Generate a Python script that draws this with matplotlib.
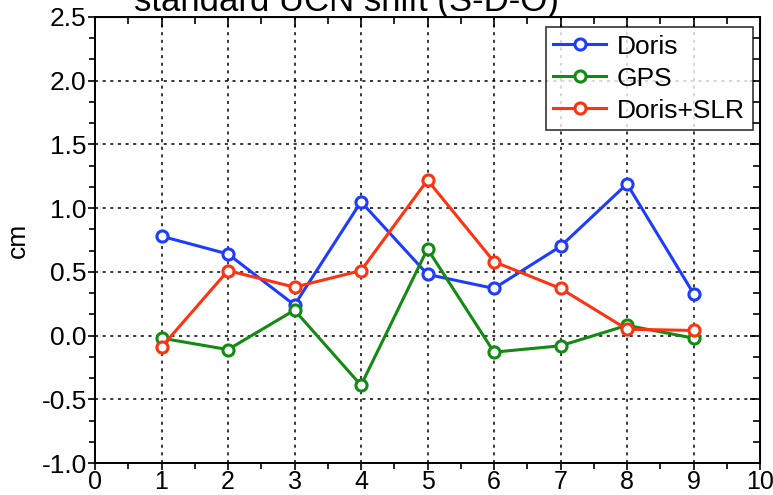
import matplotlib
matplotlib.use("Agg")
import matplotlib.pyplot as plt
from matplotlib.ticker import AutoMinorLocator, MultipleLocator

plt.rcParams["font.family"] = ["Liberation Sans", "DejaVu Sans"]

# values
epochs = [1, 2, 3, 4, 5, 6, 7, 8, 9]
doris = [0.78, 0.64, 0.24, 1.05, 0.48, 0.37, 0.70, 1.19, 0.33]
gps = [-0.02, -0.11, 0.20, -0.39, 0.68, -0.13, -0.08, 0.08, -0.02]
doris_slr = [-0.09, 0.51, 0.38, 0.51, 1.22, 0.58, 0.37, 0.05, 0.04]

series = [
    ("Doris", doris, "#1e3cff"),
    ("GPS", gps, "#138a13"),
    ("Doris+SLR", doris_slr, "#ff3311"),
]

fig = plt.figure(figsize=(7.73, 4.95), dpi=100)
ax = fig.add_axes([0.1229, 0.0646, 0.8603, 0.9011])

for name, vals, col in series:
    ax.plot(epochs, vals, color=col, lw=2.2, marker="o", ms=8,
            mfc="white", mec=col, mew=2.2, label=name)

ax.set_xlim(0, 10)
ax.set_ylim(-1.0, 2.5)
ax.xaxis.set_major_locator(MultipleLocator(1))
ax.yaxis.set_major_locator(MultipleLocator(0.5))
ax.xaxis.set_minor_locator(AutoMinorLocator(2))
ax.yaxis.set_minor_locator(AutoMinorLocator(3))
ax.yaxis.set_major_formatter(plt.FormatStrFormatter("%.1f"))
ax.grid(True, which="major", color="black", ls=(0, (2, 3)), lw=1.1)
ax.tick_params(which="both", direction="out", labelsize=19, width=1.2, pad=1)
ax.tick_params(axis="x", labelsize=18, pad=0)
ax.tick_params(which="major", length=5)
ax.tick_params(which="minor", length=4)
for s in ax.spines.values():
    s.set_linewidth(1.4)

# inward ticks on the top and right frame
top = ax.secondary_xaxis("top")
top.xaxis.set_major_locator(MultipleLocator(1))
top.xaxis.set_minor_locator(AutoMinorLocator(2))
top.tick_params(which="both", direction="in", labeltop=False, width=1.2)
top.tick_params(which="major", length=7)
top.tick_params(which="minor", length=5)
right = ax.secondary_yaxis("right")
right.yaxis.set_major_locator(MultipleLocator(0.5))
right.yaxis.set_minor_locator(AutoMinorLocator(3))
right.tick_params(which="both", direction="in", labelright=False, width=1.2)
right.tick_params(which="major", length=7)
right.tick_params(which="minor", length=5)

ax.set_ylabel("cm", fontsize=19)
ax.yaxis.set_label_coords(-0.098, 0.5)

leg = ax.legend(loc="upper right", fontsize=19, frameon=True, fancybox=False,
                edgecolor="black", handlelength=2.0, borderpad=0.3,
                labelspacing=0.3, handletextpad=0.4, borderaxespad=0,
                bbox_to_anchor=(0.989, 0.978))
leg.get_frame().set_linewidth(1.2)

fig.text(346 / 773, 1 - 11 / 495, "standard UCN shift (S-D-O)", fontsize=25,
         ha="center", va="baseline")

fig.savefig("out.png", dpi=100)
